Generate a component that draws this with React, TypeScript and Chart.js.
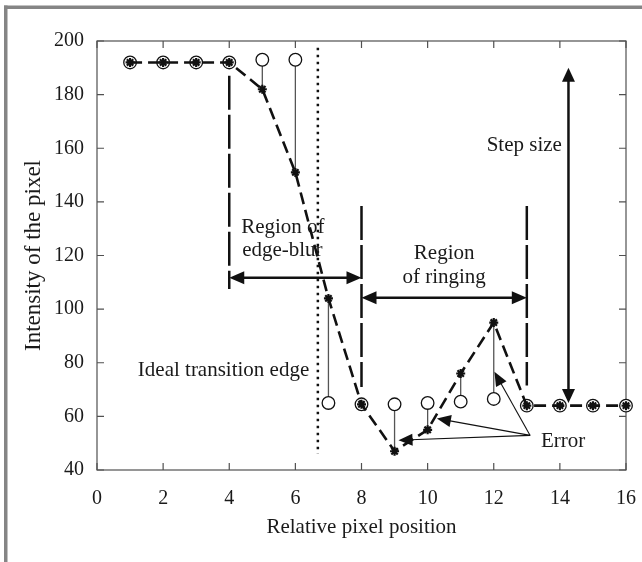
import React, { useEffect, useRef } from "react";
import { Chart, registerables } from "chart.js";

Chart.register(...registerables);

// ---------- data ----------
const positions = [1, 2, 3, 4, 5, 6, 7, 8, 9, 10, 11, 12, 13, 14, 15, 16];
const idealValues = [192, 192, 192, 192, 193, 193, 65, 64.5, 64.5, 65, 65.5, 66.5, 64, 64, 64, 64];
const blurredValues = [192, 192, 192, 192, 182, 151, 104, 64.5, 47, 55, 76, 95, 64, 64, 64, 64];
const xTickValues = [0, 2, 4, 6, 8, 10, 12, 14, 16];
const yTickValues = [40, 60, 80, 100, 120, 140, 160, 180, 200];

const xAxisTitle = "Relative pixel position";
const yAxisTitle = "Intensity of the pixel";

const FONT = '"Liberation Serif", "Times New Roman", serif';
const INK = "#1a1a1a";

function arrowHead(ctx: CanvasRenderingContext2D, x1: number, y1: number, x2: number, y2: number, len: number, half: number) {
  const a = Math.atan2(y2 - y1, x2 - x1);
  const c = Math.cos(a), s = Math.sin(a);
  ctx.beginPath();
  ctx.moveTo(x2, y2);
  ctx.lineTo(x2 - len * c + half * s, y2 - len * s - half * c);
  ctx.lineTo(x2 - len * c - half * s, y2 - len * s + half * c);
  ctx.closePath();
  ctx.fill();
}

function arrowLine(ctx: CanvasRenderingContext2D, x1: number, y1: number, x2: number, y2: number, both: boolean, len: number, half: number, width: number) {
  const a = Math.atan2(y2 - y1, x2 - x1);
  const c = Math.cos(a), s = Math.sin(a);
  ctx.lineWidth = width;
  ctx.beginPath();
  ctx.moveTo(both ? x1 + (len - 2) * c : x1, both ? y1 + (len - 2) * s : y1);
  ctx.lineTo(x2 - (len - 2) * c, y2 - (len - 2) * s);
  ctx.stroke();
  arrowHead(ctx, x1, y1, x2, y2, len, half);
  if (both) arrowHead(ctx, x2, y2, x1, y1, len, half);
}

const decorPlugin = {
  id: "decor",
  beforeDraw(chart: any) {
    const ctx = chart.ctx as CanvasRenderingContext2D;
    ctx.save();
    ctx.fillStyle = "#ffffff";
    ctx.fillRect(0, 0, chart.width, chart.height);
    ctx.fillStyle = "#858585";
    ctx.fillRect(4, 5.5, chart.width - 4, 3.5);
    ctx.fillRect(4, 5.5, 3.5, chart.height - 5.5);
    ctx.restore();
  },
  beforeDatasetsDraw(chart: any) {
    const ctx = chart.ctx as CanvasRenderingContext2D;
    const xs = chart.scales.x, ys = chart.scales.y;
    const { left, right, top, bottom } = chart.chartArea;
    ctx.save();
    // plot box
    ctx.strokeStyle = "#505050";
    ctx.lineWidth = 1.2;
    ctx.strokeRect(left, top, right - left, bottom - top);
    // inward ticks
    const tl = 7;
    ctx.beginPath();
    xTickValues.forEach((v) => {
      const px = xs.getPixelForValue(v);
      ctx.moveTo(px, bottom); ctx.lineTo(px, bottom - tl);
      ctx.moveTo(px, top); ctx.lineTo(px, top + tl);
    });
    yTickValues.forEach((v) => {
      const py = ys.getPixelForValue(v);
      ctx.moveTo(left, py); ctx.lineTo(left + tl, py);
      ctx.moveTo(right, py); ctx.lineTo(right - tl, py);
    });
    ctx.stroke();
    // error stems
    ctx.strokeStyle = "#555555";
    ctx.lineWidth = 1.3;
    positions.forEach((p, i) => {
      if (Math.abs(idealValues[i] - blurredValues[i]) > 1.5) {
        const px = xs.getPixelForValue(p);
        ctx.beginPath();
        ctx.moveTo(px, ys.getPixelForValue(idealValues[i]));
        ctx.lineTo(px, ys.getPixelForValue(blurredValues[i]));
        ctx.stroke();
      }
    });
    ctx.restore();
  },
  afterDatasetsDraw(chart: any) {
    const ctx = chart.ctx as CanvasRenderingContext2D;
    const xs = chart.scales.x, ys = chart.scales.y;
    const X = (v: number) => xs.getPixelForValue(v);
    const Y = (v: number) => ys.getPixelForValue(v);
    ctx.save();
    ctx.strokeStyle = "#111111";
    ctx.fillStyle = "#111111";
    // long-dashed region boundaries
    ctx.lineWidth = 2.5;
    ctx.setLineDash([34, 5]);
    ctx.beginPath();
    ctx.moveTo(X(4), Y(187)); ctx.lineTo(X(4), Y(107.5));
    ctx.moveTo(X(8), Y(138.5)); ctx.lineTo(X(8), Y(71));
    ctx.moveTo(X(13), Y(138.5)); ctx.lineTo(X(13), Y(71.5));
    ctx.stroke();
    // dotted ideal edge
    ctx.setLineDash([2.5, 4.5]);
    ctx.lineWidth = 2.5;
    ctx.beginPath();
    ctx.moveTo(X(6.68), Y(197.5)); ctx.lineTo(X(6.68), Y(46));
    ctx.stroke();
    ctx.setLineDash([]);
    // region arrows
    arrowLine(ctx, X(4), Y(111.7), X(8), Y(111.7), true, 15, 6.5, 2.5);
    arrowLine(ctx, X(8), Y(104.2), X(13), Y(104.2), true, 15, 6.5, 2.5);
    // step size arrow
    arrowLine(ctx, X(14.26), Y(65), X(14.26), Y(190), true, 14, 6.5, 2.5);
    // error arrows
    const ox = X(13.1), oy = Y(52.9);
    [[9.12, 51.1], [10.28, 59.2], [12.02, 76.6]].forEach(([tx, ty]) => {
      arrowLine(ctx, ox, oy, X(tx), Y(ty), false, 14, 6, 1.1);
    });
    // texts
    ctx.fillStyle = INK;
    ctx.font = `21px ${FONT}`;
    ctx.textBaseline = "middle";
    ctx.textAlign = "left";
    ctx.fillText("Region of", X(4.36), Y(130.6));
    ctx.fillText("edge-blur", X(4.39), Y(122));
    ctx.fillText("Error", X(13.43), Y(50.7));
    ctx.textAlign = "center";
    ctx.fillText("Region", X(10.5), Y(120.9));
    ctx.fillText("of ringing", X(10.5), Y(111.9));
    ctx.textAlign = "right";
    ctx.fillText("Step size", X(14.06), Y(161.2));
    ctx.fillText("Ideal transition edge", X(6.42), Y(77.2));
    ctx.restore();
  },
};

export default function App() {
  const ref = useRef<HTMLCanvasElement | null>(null);
  useEffect(() => {
    document.body.style.margin = "0";
    const canvas = ref.current!;
    const chart = new Chart(canvas, {
      type: "line",
      data: {
        datasets: [
          {
            label: "Blurred",
            data: positions.map((x, i) => ({ x, y: blurredValues[i] })),
            borderColor: "#111111",
            borderWidth: 2.6,
            borderDash: [12, 6],
            pointStyle: "star",
            pointRadius: 4.5,
            pointBorderWidth: 2.2,
            pointBorderColor: "#111111",
            pointBackgroundColor: "#111111",
            tension: 0,
            clip: false,
          } as any,
          {
            label: "Ideal",
            data: positions.map((x, i) => ({ x, y: idealValues[i] })),
            showLine: false,
            pointStyle: "circle",
            pointRadius: 6.3,
            pointBorderWidth: 1.3,
            pointBorderColor: "#111111",
            pointBackgroundColor: "#ffffff",
            clip: false,
          } as any,
        ],
      },
      options: {
        responsive: false,
        animation: false,
        devicePixelRatio: 1,
        layout: { padding: { left: 0, right: 16, top: 41, bottom: 0 } },
        plugins: { legend: { display: false }, tooltip: { enabled: false } },
        events: [],
        scales: {
          x: {
            type: "linear",
            min: 0,
            max: 16,
            grid: { display: false, drawTicks: false },
            border: { display: false },
            afterFit: (s: any) => { s.height = 92; s.paddingRight = 0; s.paddingLeft = 0; },
            afterBuildTicks: (s: any) => { s.ticks = xTickValues.map((v) => ({ value: v })); },
            ticks: { color: INK, font: { family: FONT, size: 20 }, padding: 17, maxRotation: 0 },
            title: { display: true, text: xAxisTitle, color: INK, font: { family: FONT, size: 21 }, padding: { top: 0, bottom: 22 } },
          },
          y: {
            type: "linear",
            min: 40,
            max: 200,
            grid: { display: false, drawTicks: false },
            border: { display: false },
            afterFit: (s: any) => { s.width = 97; s.paddingTop = 0; s.paddingBottom = 0; },
            afterBuildTicks: (s: any) => { s.ticks = yTickValues.map((v) => ({ value: v })); },
            ticks: { color: INK, font: { family: FONT, size: 20 }, padding: 13 },
            title: { display: true, text: yAxisTitle, color: INK, font: { family: FONT, size: 23 }, padding: { top: 20, bottom: 0 } },
          },
        },
      } as any,
      plugins: [decorPlugin],
    });
    return () => chart.destroy();
  }, []);
  return (
    <div style={{ width: 642, height: 562 }}>
      <canvas ref={ref} width={642} height={562} style={{ display: "block", width: 642, height: 562 }} />
    </div>
  );
}
